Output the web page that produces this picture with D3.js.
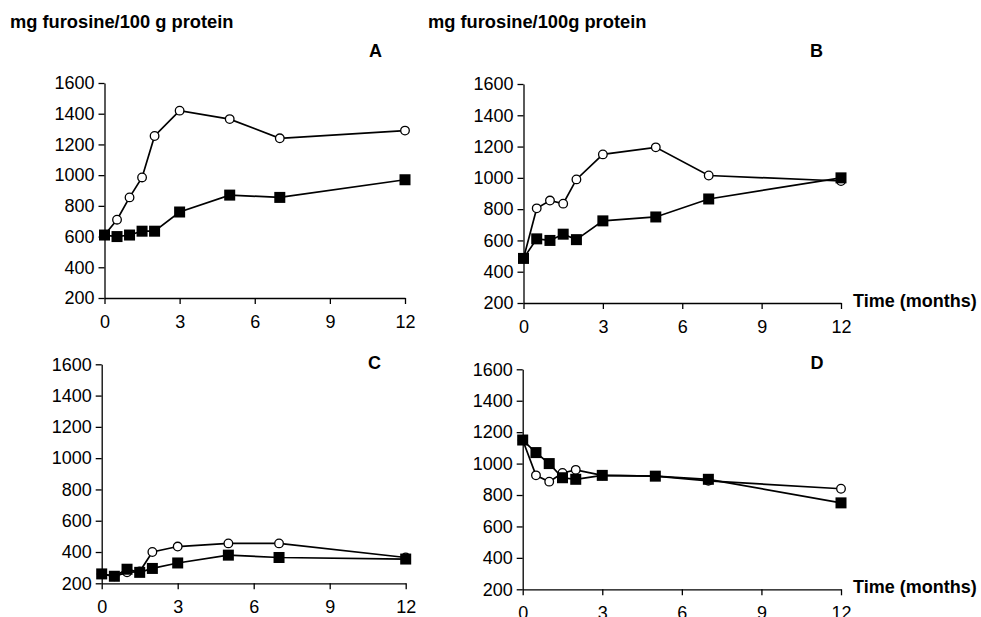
<!DOCTYPE html>
<html>
<head>
<meta charset="utf-8">
<script src="https://cdn.jsdelivr.net/npm/d3@7"></script>
<style>
  body { margin: 0; background: #fff; }
  svg { display: block; font-family: "Liberation Sans", Arial, sans-serif; }
</style>
</head>
<body>
<svg id="chart" width="981" height="617"></svg>
<script>
// storage time in months (same for every panel)
var months = [0, 0.5, 1, 1.5, 2, 3, 5, 7, 12];
var xTicks = [0, 3, 6, 9, 12];
var yTicks = [200, 400, 600, 800, 1000, 1200, 1400, 1600];

// open circles
var circlesA = [610, 710, 855, 985, 1255, 1420, 1365, 1240, 1290];
var circlesB = [485, 805, 855, 835, 990, 1150, 1195, 1015, 980];
var circlesC = [260, 245, 270, 275, 400, 435, 455, 455, 365];
var circlesD = [1150, 925, 885, 940, 960, 925, 920, 890, 840];

// filled squares
var squaresA = [610, 600, 610, 635, 635, 760, 870, 855, 970];
var squaresB = [485, 610, 600, 640, 605, 725, 750, 865, 1000];
var squaresC = [260, 245, 290, 270, 295, 330, 380, 365, 355];
var squaresD = [1150, 1070, 1000, 910, 900, 925, 920, 900, 750];

var panelNames = ["A", "B", "C", "D"];
var yTitles = ["mg furosine/100 g protein", "mg furosine/100g protein"];
var xTitle = "Time (months)";

var svg = d3.select("#chart");

// where each panel sits on the page
var panels = [
  {name: panelNames[0], circ: circlesA, sq: squaresA, left: 104.5, right: 405, top: 83, bottom: 298, letterX: 369, letterY: 57, timeLabel: false},
  {name: panelNames[1], circ: circlesB, sq: squaresB, left: 523.5, right: 841, top: 84, bottom: 303, letterX: 810, letterY: 57, timeLabel: true},
  {name: panelNames[2], circ: circlesC, sq: squaresC, left: 101.7, right: 405.7, top: 364.3, bottom: 583.3, letterX: 368, letterY: 369, timeLabel: false},
  {name: panelNames[3], circ: circlesD, sq: squaresD, left: 522.7, right: 841, top: 369.3, bottom: 589.3, letterX: 810.5, letterY: 369, timeLabel: true}
];

// titles over the top row
svg.append("text")
  .attr("x", 10).attr("y", 28)
  .style("font-weight", "bold").style("font-size", "18.3px")
  .text(yTitles[0]);
svg.append("text")
  .attr("x", 428).attr("y", 28)
  .style("font-weight", "bold").style("font-size", "18.3px")
  .text(yTitles[1]);

panels.forEach(function(p) {
  var x = d3.scaleLinear().domain([0, 12]).range([p.left, p.right]);
  var y = d3.scaleLinear().domain([200, 1600]).range([p.bottom, p.top]);

  var g = svg.append("g");

  // y axis
  var ya = g.append("g")
    .attr("transform", "translate(" + p.left + ",0)")
    .call(d3.axisLeft(y).tickValues(yTicks).tickFormat(d3.format("d"))
      .tickSize(6).tickPadding(4).tickSizeOuter(0));
  ya.attr("font-size", null).attr("font-family", null);
  ya.selectAll("text").style("font-size", "18px").attr("fill", "#000");

  // x axis
  var xa = g.append("g")
    .attr("transform", "translate(0," + p.bottom + ")")
    .call(d3.axisBottom(x).tickValues(xTicks).tickFormat(d3.format("d"))
      .tickSize(6).tickPadding(11).tickSizeOuter(0));
  xa.attr("font-size", null).attr("font-family", null);
  xa.selectAll("text").style("font-size", "18px").attr("fill", "#000");

  svg.selectAll(".domain, .tick line").attr("stroke", "#000").attr("stroke-width", 1.3);

  // panel letter
  g.append("text")
    .attr("x", p.letterX).attr("y", p.letterY)
    .style("font-weight", "bold").style("font-size", "18px")
    .text(p.name);

  if (p.timeLabel) {
    g.append("text")
      .attr("x", x(12) + 12).attr("y", p.bottom + 4)
      .style("font-weight", "bold").style("font-size", "18px")
      .text(xTitle);
  }

  var line = d3.line()
    .x(function(d, i) { return x(months[i]); })
    .y(function(d) { return y(d); });

  // open circle series
  g.append("path").datum(p.circ)
    .attr("d", line).attr("fill", "none")
    .attr("stroke", "#000").attr("stroke-width", 1.7);
  g.selectAll(".circ").data(p.circ).enter().append("circle")
    .attr("class", "circ")
    .attr("cx", function(d, i) { return x(months[i]); })
    .attr("cy", function(d) { return y(d); })
    .attr("r", 4.3)
    .attr("fill", "#fff").attr("stroke", "#000").attr("stroke-width", 1.3);

  // filled square series
  g.append("path").datum(p.sq)
    .attr("d", line).attr("fill", "none")
    .attr("stroke", "#000").attr("stroke-width", 1.7);
  g.selectAll(".sq").data(p.sq).enter().append("rect")
    .attr("class", "sq")
    .attr("x", function(d, i) { return x(months[i]) - 5.5; })
    .attr("y", function(d) { return y(d) - 5.5; })
    .attr("width", 11).attr("height", 11)
    .attr("fill", "#000");
});
</script>
</body>
</html>
